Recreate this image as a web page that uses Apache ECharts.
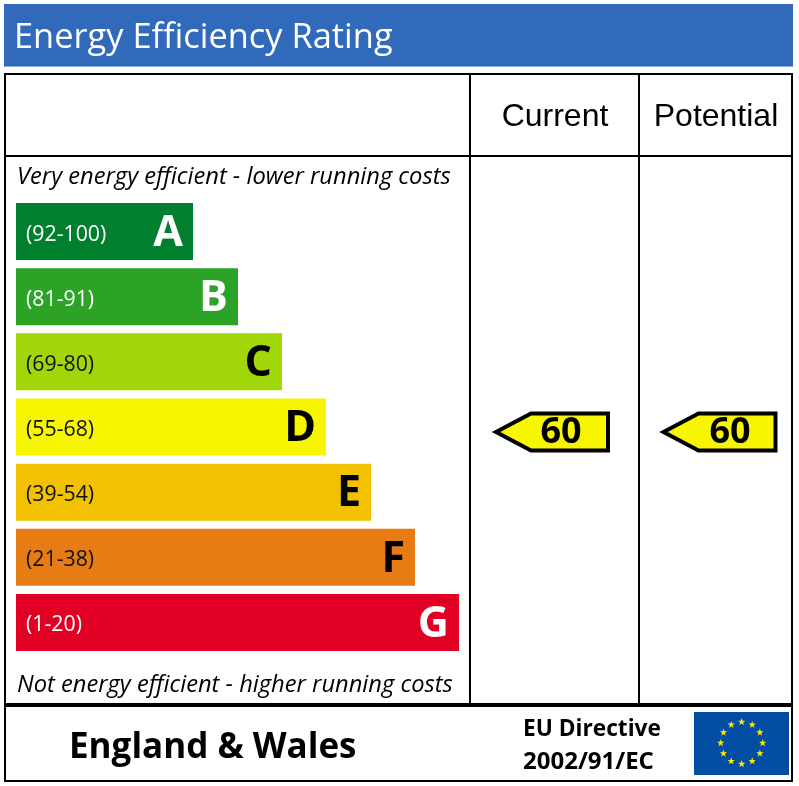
<!DOCTYPE html>
<html><head><meta charset="utf-8">
<style>html,body{margin:0;padding:0;background:#fff}#c{width:799px;height:786px}</style>
<script src="https://cdn.jsdelivr.net/npm/echarts@6/dist/echarts.min.js"></script>
</head><body><div id="c"></div>
<script>
const letters = ['A','B','C','D','E','F','G'];
const ranges = ['(92-100)','(81-91)','(69-80)','(55-68)','(39-54)','(21-38)','(1-20)'];
const barLengths = [177,222,266,310,355,399,443];
const barColors = ['#007F2E','#2CA327','#A1D60B','#F8F500','#F2C200','#E87C14','#E10024'];
const rangeColors = ['#fff','#fff','#111','#111','#111','#111','#fff'];
const letterColors = ['#fff','#fff','#000','#000','#000','#000','#fff'];
const columns = ['Current','Potential'];
const currentRating = 60;
const potentialRating = 60;
const ratingBand = 'D';

const FONT = '"Open Sans"';
const chart = echarts.init(document.getElementById('c'), null, {renderer:'canvas'});

function line(x1,y1,x2,y2,w){return {type:'line',silent:true,shape:{x1,y1,x2,y2},style:{stroke:'#000',lineWidth:w},z:5};}
function text(x,y,t,font,fill,align){return {type:'text',silent:true,x,y,style:{text:t,font,fill:fill||'#000',textAlign:align||'left',textVerticalAlign:'middle'},z:6};}

const cx=741.7, cy=743, R=21, stars=[];
for(let i=0;i<12;i++){
  const a=i*Math.PI/6, sx=cx+R*Math.sin(a), sy=cy-R*Math.cos(a), pts=[];
  for(let k=0;k<10;k++){const r=k%2?1.5:3.9,b=k*Math.PI/5;pts.push([sx+r*Math.sin(b),sy-r*Math.cos(b)]);}
  stars.push({type:'polygon',silent:true,shape:{points:pts},style:{fill:'#FFED00'},z:7});
}

function arrowSeries(idx,val){
  const dx = idx===1 ? -2.5 : 4;
  const tdx = idx===1 ? 9 : 10.5;
  return {type:'custom',xAxisIndex:idx,yAxisIndex:idx,coordinateSystem:'cartesian2d',silent:true,z:4,
    clip:false,
    data:[[columns[idx-1],ratingBand,val]],
    renderItem:(params,api)=>{
      const c=api.coord([api.value(0),api.value(1)]);
      const x=c[0]+dx, y=c[1]+5;
      return {type:'group',children:[
        {type:'polygon',shape:{points:[[x-56,y],[x-21,y-18.5],[x+56,y-18.5],[x+56,y+18.5],[x-21,y+18.5]]},
          style:{fill:'#F8F500',stroke:'#000',lineWidth:4,lineJoin:'miter'}},
        {type:'text',x:x+tdx,y:y+1,style:{text:String(api.value(2)),font:'bold 36px '+FONT,fill:'#000',textAlign:'center',textVerticalAlign:'middle'}}
      ]};
    }};
}

chart.setOption({
  animation:false,
  backgroundColor:'#fff',
  title:{text:'Energy Efficiency Rating',left:9,top:9,
    textStyle:{fontFamily:FONT,fontWeight:400,fontSize:34.4,color:'#fff',lineHeight:48},z:6},
  grid:[
    {left:16,top:199,width:443,height:456},
    {left:470,top:199,width:169,height:456},
    {left:639,top:199,width:153,height:456}
  ],
  xAxis:[
    {type:'value',gridIndex:0,min:0,max:443,show:false},
    {type:'category',gridIndex:1,data:[columns[0]],show:false},
    {type:'category',gridIndex:2,data:[columns[1]],show:false}
  ],
  yAxis:[0,1,2].map(i=>({type:'category',gridIndex:i,data:letters,inverse:true,show:false})),
  series:[
    {type:'bar',xAxisIndex:0,yAxisIndex:0,barWidth:57,silent:true,
      data:barLengths.map((v,i)=>({value:v,itemStyle:{color:barColors[i]},
        label:{color:rangeColors[i],formatter:ranges[i]}})),
      label:{show:true,position:'insideLeft',distance:10,offset:[0,3],fontFamily:FONT,fontSize:21.3}},
    {type:'bar',xAxisIndex:0,yAxisIndex:0,barWidth:57,barGap:'-100%',silent:true,
      data:barLengths.map((v,i)=>({value:v,itemStyle:{color:'transparent'},
        label:{color:letterColors[i],formatter:letters[i]}})),
      label:{show:true,position:'insideRight',distance:10,offset:[0,2],fontFamily:FONT,fontWeight:700,fontSize:43},z:3},
    arrowSeries(1,currentRating),
    arrowSeries(2,potentialRating)
  ],
  graphic:[
    {type:'rect',silent:true,shape:{x:4,y:4,width:789,height:62},style:{fill:'#3169BB'},z:-1},
    {type:'rect',silent:true,shape:{x:4,y:66,width:789,height:1},style:{fill:'#8FB0DE'},z:-1},
    line(5,74,792,74,2),
    line(5,73,5,782,2),
    line(792,73,792,782,2),
    line(5,156,792,156,2),
    line(470,74,470,704,2),
    line(639,74,639,704,2),
    line(4,705,793,705,4),
    line(4,781,793,781,2),
    text(555,117,'Current','32px "Liberation Sans"','#000','center'),
    text(716,117,'Potential','32px "Liberation Sans"','#000','center'),
    text(17,177,'Very energy efficient - lower running costs','italic 23.7px '+FONT),
    text(17,685,'Not energy efficient - higher running costs','italic 23.7px '+FONT),
    text(69,748,'England & Wales','bold 35px '+FONT),
    text(523,730,'EU Directive','bold 22.7px '+FONT),
    text(523,762,'2002/91/EC','bold 24px '+FONT),
    {type:'rect',silent:true,shape:{x:694,y:712,width:95,height:63},style:{fill:'#034EA2'},z:6},
    ...stars
  ]
});
</script></body></html>
